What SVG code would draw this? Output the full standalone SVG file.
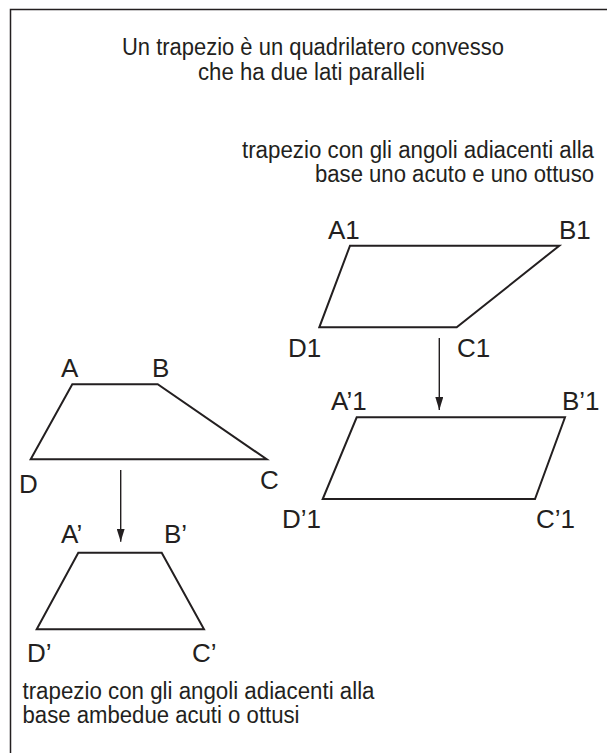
<svg xmlns="http://www.w3.org/2000/svg" width="607" height="753" viewBox="0 0 607 753">
<style>
text{font-family:"Liberation Sans",Arial,sans-serif;fill:#231f20}
.cap{font-size:23px}
.lbl{font-size:26px}
.shape{fill:none;stroke:#231f20;stroke-width:2;stroke-linejoin:miter}
.conn{stroke:#231f20;stroke-width:1.4;fill:none}
</style>
<defs>
<marker id="ah" viewBox="0 0 13 8" refX="13" refY="4" markerWidth="13" markerHeight="8" markerUnits="userSpaceOnUse" orient="auto">
<path d="M0,0 L13,4 L0,8 z" fill="#231f20"/>
</marker>
</defs>
<rect width="607" height="753" fill="#fff"/>
<path d="M10.5,753 V9.5 H607" fill="none" stroke="#231f20" stroke-width="1.5"/>
<g id="title">
<text class="cap" x="122" y="55" textLength="382" lengthAdjust="spacingAndGlyphs">Un trapezio è un quadrilatero convesso</text>
<text class="cap" x="198" y="80" textLength="227" lengthAdjust="spacingAndGlyphs">che ha due lati paralleli</text>
</g>
<g id="caption-right">
<text class="cap" x="242" y="158" textLength="352" lengthAdjust="spacingAndGlyphs">trapezio con gli angoli adiacenti alla</text>
<text class="cap" x="315" y="182" textLength="279" lengthAdjust="spacingAndGlyphs">base uno acuto e uno ottuso</text>
</g>
<g id="trap-A1B1C1D1">
<polygon class="shape" points="350,245.7 559.3,245.7 456.7,327.3 319.3,327.3"/>
<text class="lbl" x="328" y="239">A1</text>
<text class="lbl" x="559" y="239">B1</text>
<text class="lbl" x="288" y="357">D1</text>
<text class="lbl" x="457" y="357">C1</text>
</g>
<g id="trap-A1p">
<polygon class="shape" points="356.7,417.3 565,417.3 535,499 322.7,499"/>
<text class="lbl" x="331" y="410">A’1</text>
<text class="lbl" x="562" y="410">B’1</text>
<text class="lbl" x="282" y="528">D’1</text>
<text class="lbl" x="536" y="528">C’1</text>
</g>
<g id="trap-ABCD">
<polygon class="shape" points="72.3,384.3 157.7,384.3 266.7,459.3 30.7,459.3"/>
<text class="lbl" x="61" y="377">A</text>
<text class="lbl" x="152" y="377">B</text>
<text class="lbl" x="19" y="493">D</text>
<text class="lbl" x="260" y="489">C</text>
</g>
<g id="trap-ApBpCpDp">
<polygon class="shape" points="78.3,552.7 161.7,552.7 204,629.3 36.7,629.3"/>
<text class="lbl" x="61" y="543">A’</text>
<text class="lbl" x="164" y="543">B’</text>
<text class="lbl" x="27" y="662">D’</text>
<text class="lbl" x="192" y="662">C’</text>
</g>
<g id="caption-left">
<text class="cap" x="22.5" y="699" textLength="352" lengthAdjust="spacingAndGlyphs">trapezio con gli angoli adiacenti alla</text>
<text class="cap" x="22.5" y="723" textLength="277" lengthAdjust="spacingAndGlyphs">base ambedue acuti o ottusi</text>
</g>
<g id="connectors">
<line class="conn" x1="120.7" y1="470" x2="120.7" y2="541.7" marker-end="url(#ah)"/>
<line class="conn" x1="439.3" y1="338" x2="439.3" y2="410" marker-end="url(#ah)"/>
</g>
</svg>
